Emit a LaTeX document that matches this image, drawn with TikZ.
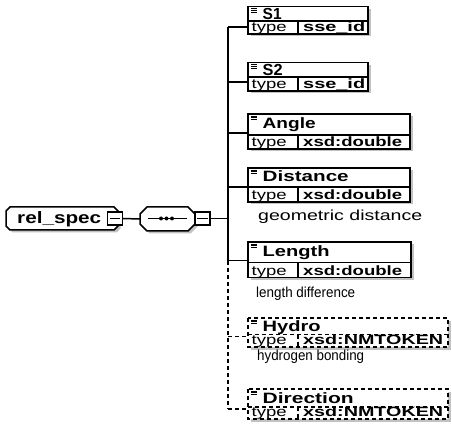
\documentclass[tikz,border=0pt]{standalone}
\usepackage{graphicx}
\usepackage{fontspec}
\setmainfont{Liberation Sans}
\newcommand\fitto[2]{\resizebox{#1}{\height}{#2}}
\begin{document}
\begin{tikzpicture}[x=1pt,y=-1pt,
  box/.style={line width=1.5pt},
  divline/.style={line width=1.1pt},
  conn/.style={line width=1.5pt},
  opt/.style={dash pattern=on 4pt off 3pt},
  shade/.style={fill=black!24},
  minusbox/.style={draw,line width=1.1pt,fill=white,minimum width=15pt,minimum height=13pt,inner sep=0pt},
  hook/.style={minimum width=#1,minimum height=24pt,inner sep=0pt},
  rootlabel/.style={anchor=base west,inner sep=0pt,font=\fontsize{16.5}{16.5}\selectfont\bfseries},
  nm/.style={anchor=base west,inner sep=0pt,font=\fontsize{15}{15}\selectfont\bfseries},
  tp/.style={anchor=base west,inner sep=0pt,font=\fontsize{13.5}{13.5}\selectfont},
  vl/.style={anchor=base west,inner sep=0pt,font=\fontsize{13.5}{13.5}\selectfont\bfseries},
  note/.style={anchor=base west,inner sep=0pt,font=\fontsize{14.5}{14.5}\selectfont},
]
\useasboundingbox (0,0) rectangle (452,430);

% chamfered outline: left, top, right, bottom, chamfer
\newcommand\chamferbox[5]{%
  \fill[shade] (#1+2.5+#5,#2+2.5) -- (#3+2.5-#5,#2+2.5) -- (#3+2.5,#2+2.5+#5) -- (#3+2.5,#4+2.5-#5)
    -- (#3+2.5-#5,#4+2.5) -- (#1+2.5+#5,#4+2.5) -- (#1+2.5,#4+2.5-#5) -- (#1+2.5,#2+2.5+#5) -- cycle;
  \draw[box,fill=white] (#1+#5,#2) -- (#3-#5,#2) -- (#3,#2+#5) -- (#3,#4-#5)
    -- (#3-#5,#4) -- (#1+#5,#4) -- (#1,#4-#5) -- (#1,#2+#5) -- cycle;
}

% element box: id, top, divider, bottom, right, name baseline, name, value, line style
\newcommand\elembox[9]{%
  \fill[shade] (250.5,#2+2.5) rectangle (#5+2.5,#4+2.5);
  \draw[box,#9,fill=white] (248,#2) rectangle (#5,#4);
  \draw[divline,#9] (248,#3) -- (#5,#3) (298,#3) -- (298,#4);
  \draw[line width=0.7pt] (251,#2+2) -- ++(5.5,0) (251,#2+3.7) -- ++(5.5,0) (251,#2+5.4) -- ++(5.5,0);
  \node[nm] (#1) at (262.5,#6) {#7};
  \node[tp] (#1-type) at (251.5,#4-2.1) {\fitto{35pt}{type}};
  \node[vl] (#1-val) at (303,#4-2.1) {#8};
}

% root element
\chamferbox{6}{207}{118}{230}{4}
\node[rootlabel] (root) at (17,223.5) {\fitto{84pt}{rel\_spec}};
\node[minusbox] (m1) at (115,218.5) {};
\draw[divline] ([xshift=3pt]m1.west) -- ([xshift=-3pt]m1.east);

% sequence compositor
\chamferbox{140}{207}{195}{231}{7}
\node[hook=55pt] (seq) at (167.5,219) {};
\draw[conn] (148,218.5) -- (187,218.5);
\foreach \dx in {161,166.5,172} \fill (\dx,218.5) circle (2pt);
\node[minusbox] (m2) at (202.5,218.5) {};
\draw[divline] ([xshift=3pt]m2.west) -- ([xshift=-3pt]m2.east);

\draw[conn] (m1.east) -- (seq.west);
\coordinate (hub) at (228,218.5);
\draw[conn] (m2.east) -- (hub);

% child elements
\elembox{S1}{6.5}{21}{34}{368}{19.3}{\fontsize{16}{16}\selectfont\fitto{19pt}{S1}}{\fitto{62pt}{sse\_id}}{solid}
\elembox{S2}{62.5}{77}{91}{368}{75.3}{\fontsize{16}{16}\selectfont\fitto{20pt}{S2}}{\fitto{62pt}{sse\_id}}{solid}
\elembox{Ang}{114}{135}{149}{410}{129}{\fitto{53pt}{Angle}}{\fitto{99pt}{xsd:double}}{solid}
\elembox{Dist}{168}{187}{202}{410}{182}{\fitto{86pt}{Distance}}{\fitto{99pt}{xsd:double}}{solid}
\elembox{Len}{242}{262.5}{277.5}{411}{257}{\fitto{67pt}{Length}}{\fitto{99pt}{xsd:double}}{solid}
\elembox{Hyd}{318}{334.5}{347}{448}{331}{\fitto{58pt}{Hydro}}{\fitto{140pt}{xsd:NMTOKEN}}{opt}
\elembox{Dir}{389}{407}{419}{448}{403}{\fitto{91pt}{Direction}}{\fitto{140pt}{xsd:NMTOKEN}}{opt}

\node[note] (distnote) at (258,221) {\fitto{164pt}{geometric distance}};
\node[note] (lennote) at (256,297) {\fitto{99pt}{length difference}};
\node[note] (hydnote) at (257,360) {\fitto{107pt}{hydrogen bonding}};

% trunk and branches
\foreach \id/\yy in {S1/27,S2/82,Ang/133,Dist/187,Len/260.5,Hyd/336.5,Dir/409}{
  \coordinate (t-\id) at (228,\yy);
  \coordinate (\id-in) at (248,\yy);
}
\draw[conn] (t-S1) -- (t-Len);
\draw[conn,opt] (t-Len) -- (t-Dir);
\foreach \id in {S1,S2,Ang,Dist,Len}
  \draw[conn] (t-\id) -- (\id-in);
\foreach \id in {Hyd,Dir}
  \draw[conn,opt] (t-\id) -- (\id-in);
\end{tikzpicture}
\end{document}
